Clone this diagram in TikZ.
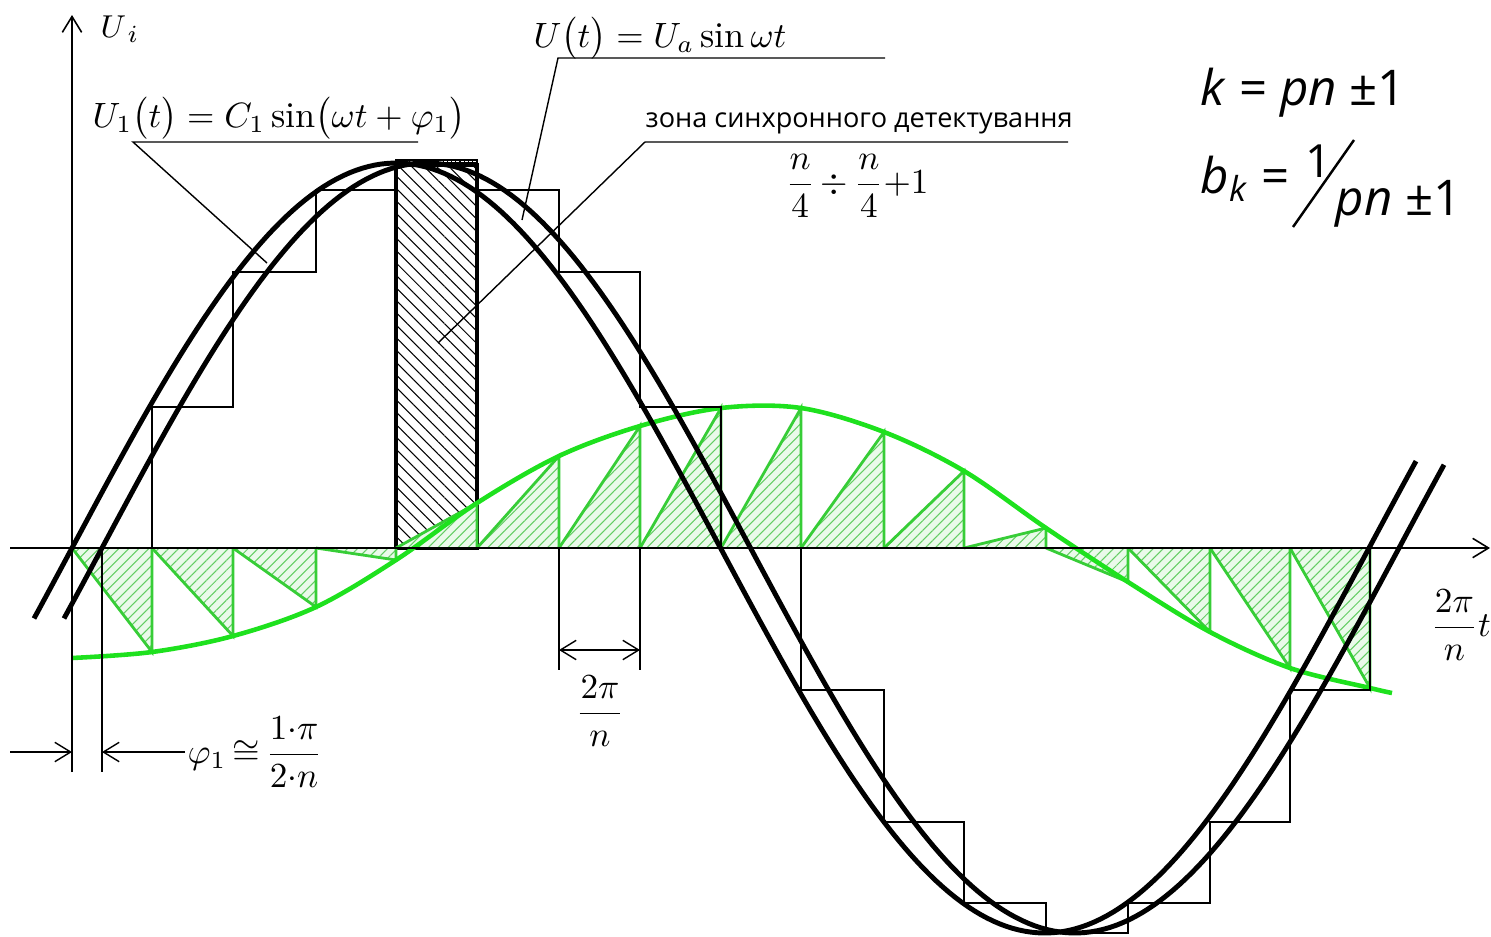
\documentclass[tikz,border=0pt]{standalone}
\usepackage{amsmath}
\usepackage{fontspec}
\newfontfamily\osans{Open Sans}
\usetikzlibrary{arrows.meta,patterns.meta}
\definecolor{gline}{RGB}{30,225,30}
\definecolor{gedgec}{RGB}{55,205,55}
\definecolor{gfillc}{RGB}{234,250,234}
\definecolor{ghatch}{RGB}{100,205,100}
\begin{document}
\begin{tikzpicture}[x=0.01cm,y=-0.01cm,
  >={Straight Barb[length=4.5pt,width=5.5pt]},
  axisline/.style={line width=0.45pt},
  stair/.style={line width=0.6pt},
  sinecurve/.style={line width=1.4pt},
  gcurve/.style={draw=gline, line width=1.3pt},
  gedgeline/.style={draw=gedgec, line width=0.8pt},
  gtri/.style={preaction={fill=gfillc}, pattern={Lines[angle=45,distance=2pt,line width=0.3pt]}, pattern color=ghatch},
  hrect/.style={draw, line width=0.9pt, pattern={Lines[angle=-45,distance=2.5pt,line width=0.3pt]}},
  lead/.style={line width=0.4pt},
  dimline/.style={line width=0.4pt},
  lbl/.style={inner sep=0pt, font=\fontsize{10.3}{12}\selectfont},
  kfont/.style={inner sep=0pt, anchor=base west, font=\osans\fontsize{14}{16}\selectfont},
]
\useasboundingbox (0,0) rectangle (1491,936);

% hatched rectangle (synchronous detection zone)
\draw[hrect] (396,165) rectangle (477,548);
\draw[line width=0.6pt, pattern={Lines[angle=90,distance=1.2pt,line width=0.3pt]}] (396,160) rectangle (477,165);

% green hatched triangles
\foreach \xa/\xb/\g in {72/152/652, 152/233/636, 233/316/607, 316/396/560, 396/477/503, 477/559/456, 559/640/426, 640/721/408, 721/801/408, 801/884/432, 884/964/471, 964/1046/528, 1046/1128/582, 1128/1210/632, 1210/1290/668, 1290/1370/688}{
  \path[gtri] (\xa,548) -- (\xb,548) -- (\xb,\g) -- cycle;
  \draw[gedgeline] (\xa,548) -- (\xb,\g) -- (\xb,548);
}
% green curve
\draw[gcurve] plot[smooth, tension=0.55] coordinates {(72,658) (152,652) (233,636) (316,607) (396,560) (477,503) (559,456) (640,426) (721,408) (801,408) (884,432) (964,471) (1046,528) (1128,582) (1210,632) (1290,668) (1370,688) (1392,693)};

% staircase
\draw[stair] (72,548) -- (152,548) -- (152,407) -- (233,407) -- (233,272) -- (316,272) -- (316,190) -- (396,190) -- (396,163) -- (477,163) -- (477,190) -- (559,190) -- (559,272) -- (640,272) -- (640,407) -- (721,407) -- (721,548) -- (801,548) -- (801,690) -- (884,690) -- (884,822) -- (964,822) -- (964,903) -- (1046,903) -- (1046,933) -- (1128,933) -- (1128,903) -- (1210,903) -- (1210,822) -- (1290,822) -- (1290,690) -- (1370,690) -- (1370,548);

% axes
\coordinate (xs) at (10,548);
\coordinate (xe) at (1490,548);
\coordinate (ys) at (72,772);
\coordinate (ye) at (72,15);
\draw[axisline,->] (xs) -- (xe);
\draw[axisline,->] (ys) -- (ye);

% sine curves
\draw[sinecurve, domain=34:1416, samples=220] plot (\x, {548-385*sin((\x-72)/1297*360)});
\draw[sinecurve, domain=64:1444, samples=220] plot (\x, {548-385*sin((\x-102)/1297*360)});

% dimension phi1
\coordinate (p1a) at (102,548);
\coordinate (p1b) at (102,772);
\draw[dimline] (p1a) -- (p1b);
\coordinate (d1s) at (10,752);
\coordinate (d1e) at (72,752);
\coordinate (d2s) at (185,752);
\coordinate (d2e) at (102,752);
\draw[dimline,->] (d1s) -- (d1e);
\draw[dimline,->] (d2s) -- (d2e);
\node[lbl, anchor=base west] (phi) at (187,763) {$\varphi_1\,{\cong}\,\displaystyle\frac{1{\cdot}\pi}{2{\cdot}n}$};

% dimension 2pi/n
\coordinate (e1a) at (559,548);
\coordinate (e1b) at (559,670);
\coordinate (e2a) at (640,548);
\coordinate (e2b) at (640,670);
\draw[dimline] (e1a) -- (e1b);
\draw[dimline] (e2a) -- (e2b);
\coordinate (da) at (559,650);
\coordinate (db) at (640,650);
\draw[dimline,<->] (da) -- (db);
\node[lbl, anchor=base] (tpn) at (600,722) {$\displaystyle\frac{2\pi}{\;n\;}$};

% axis labels
\node[lbl, anchor=base west, font=\fontsize{9.5}{11}\selectfont] (ui) at (100,37) {$U_{\,i}$};
\node[lbl, anchor=base west] (tax) at (1430,636) {$\displaystyle\frac{2\pi}{n}t$};

% U1 label with leader
\node[lbl, anchor=base west] (u1) at (92,127) {$U_1\bigl(t\bigr)=C_1\sin\bigl(\omega t+\varphi_1\bigr)$};
\coordinate (u1a) at (133,142);
\coordinate (u1b) at (418,142);
\coordinate (u1c) at (267,263);
\draw[lead] (u1b) -- (u1a) -- (u1c);

% U label with leader
\node[lbl, anchor=base west] (ua) at (533,47) {$U\bigl(t\bigr)=U_a\sin\omega t$};
\coordinate (uaa) at (558,58);
\coordinate (uab) at (885,58);
\coordinate (uac) at (522,220);
\draw[lead] (uab) -- (uaa) -- (uac);

% zone label with leader
\node[inner sep=0pt, anchor=base west, font=\osans\fontsize{7.7}{10}\selectfont] (zona) at (645,127) {зона синхронного детектування};
\coordinate (za) at (645,142);
\coordinate (zb) at (1068,142);
\coordinate (zc) at (438,343);
\draw[lead] (zb) -- (za) -- (zc);
\node[lbl] (nfrac) at (857,186) {$\displaystyle\frac{n}{4}\,{\div}\,\frac{n}{4}{+}1$};

% k and b_k formulas
\node[kfont] (kf) at (1200,105) {\textit{k} = \textit{pn} ±1};
\node[kfont] (bf) at (1200,193) {\textit{b}\textsubscript{\textit{k}} =};
\node[kfont, font=\osans\fontsize{13}{15}\selectfont] (one) at (1305,177) {1};
\coordinate (sla) at (1293,227);
\coordinate (slb) at (1354,140);
\draw[line width=0.7pt] (sla) -- (slb);
\node[kfont] (den) at (1335,215) {\textit{pn} ±1};
\end{tikzpicture}
\end{document}
